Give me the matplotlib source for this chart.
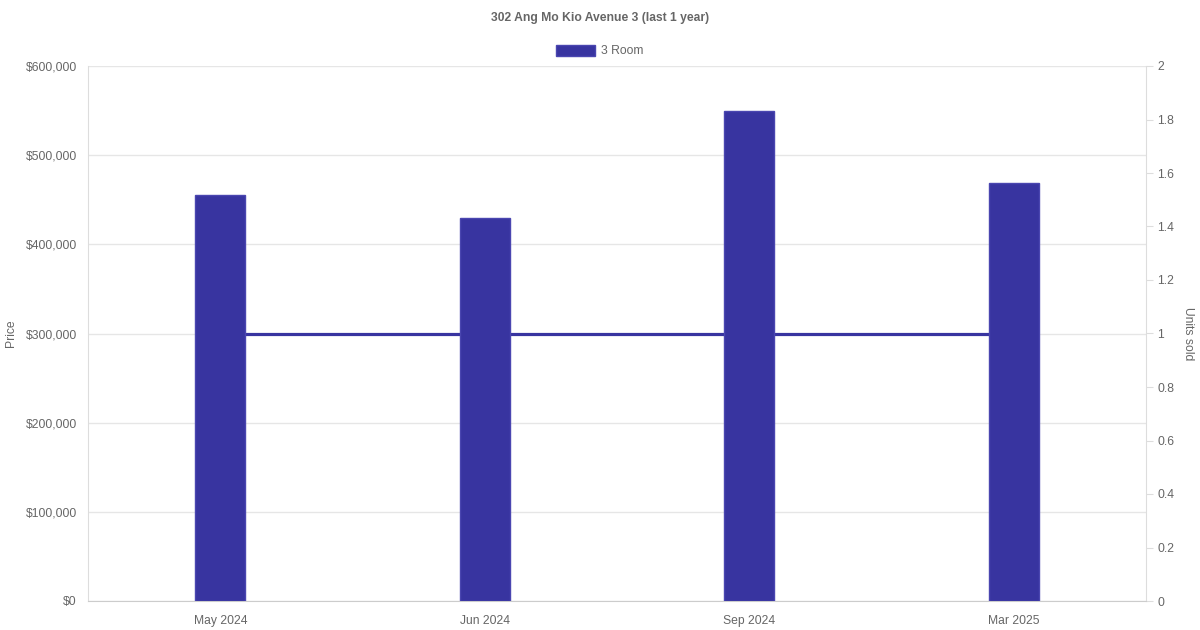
import matplotlib
matplotlib.use("Agg")
import matplotlib.pyplot as plt
from matplotlib.ticker import FuncFormatter, MultipleLocator
from matplotlib.patches import Rectangle

plt.rcParams['font.family'] = ['Liberation Sans', 'DejaVu Sans']

title = "302 Ang Mo Kio Avenue 3 (last 1 year)"
months = ["May 2024", "Jun 2024", "Sep 2024", "Mar 2025"]
prices = [455000, 430000, 550000, 469000]
units_sold = [1, 1, 1, 1]
series_name = "3 Room"

bar_color = "#3834a0"
edge_color = "#4a46b0"
grid_color = "#e6e6e6"
text_color = "#666666"
fs = 8.7

fig = plt.figure(figsize=(12, 6.3), dpi=100)
rect = [88/1200, 1-601/630, (1146-88)/1200, (601-66)/630]

# background grid layer
axg = fig.add_axes(rect)
axg.set_zorder(0)
axg.set_ylim(0, 600000)
axg.set_xlim(0, 1)
axg.yaxis.set_major_locator(MultipleLocator(100000))
axg.grid(axis='y', color=grid_color, linewidth=1)
axg.tick_params(left=False, bottom=False, labelleft=False, labelbottom=False)
for s in axg.spines.values():
    s.set_visible(False)

# line layer (units sold)
ax2 = fig.add_axes(rect)
ax2.set_zorder(1)
ax2.patch.set_visible(False)

# bar layer (price)
ax = fig.add_axes(rect)
ax.set_zorder(2)
ax.patch.set_visible(False)

x = list(range(len(months)))
ax.bar(x, prices, width=0.19, color=bar_color, edgecolor=edge_color, linewidth=1, zorder=3)
ax2.plot(x, units_sold, color=bar_color, linewidth=2.3, solid_capstyle='butt')

for a in (ax, ax2):
    a.set_xlim(-0.5, len(months) - 0.5)
ax.set_ylim(0, 600000)
ax2.set_ylim(0, 2)

ax.yaxis.set_major_locator(MultipleLocator(100000))
ax.yaxis.set_major_formatter(FuncFormatter(lambda v, p: f"${int(v):,}"))

ax2.yaxis.tick_right()
ax2.yaxis.set_label_position('right')
ax2.yaxis.set_major_locator(MultipleLocator(0.2))
ax2.yaxis.set_major_formatter(FuncFormatter(lambda v, p: f"{v:g}"))
ax2.tick_params(axis='x', bottom=False, labelbottom=False)

ax.set_xticks(x)
ax.set_xticklabels(months)

for s in ['top', 'right']:
    ax.spines[s].set_visible(False)
for s in ['top', 'left', 'bottom']:
    ax2.spines[s].set_visible(False)
ax.spines['left'].set_color("#dddddd")
ax.spines['bottom'].set_color("#cccccc")
ax2.spines['right'].set_color("#dddddd")

ax.tick_params(axis='y', length=0, pad=8, labelsize=fs, labelcolor=text_color)
ax.tick_params(axis='x', length=0, pad=10, labelsize=fs, labelcolor=text_color)
ax2.tick_params(axis='y', length=5, color="#dddddd", pad=3, labelsize=fs, labelcolor=text_color)

ax.set_ylabel("Price", fontsize=fs, color=text_color, va='center')
ax.yaxis.set_label_coords(-(88-11)/1058, 0.5)
ax2.set_ylabel("Units sold", fontsize=fs, color=text_color, rotation=270, va='center')
ax2.yaxis.set_label_coords((1188-88)/1058, 0.5)

fig.text(0.5, 1-18/630, title, ha='center', va='center', fontsize=fs,
         fontweight='bold', color=text_color)

# legend
fig.patches.append(Rectangle((556/1200, 1-56/630), 39/1200, 11/630,
                             transform=fig.transFigure, facecolor=bar_color,
                             edgecolor=edge_color, linewidth=1))
fig.text(601/1200, 1-51/630, series_name, ha='left', va='center', fontsize=fs,
         color=text_color)

fig.savefig("out.png", dpi=100)
